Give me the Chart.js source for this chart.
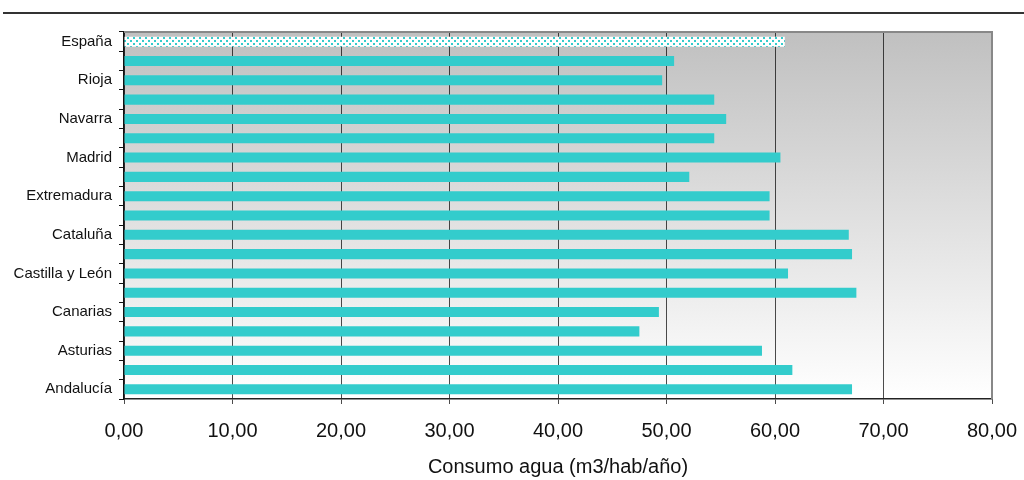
<!DOCTYPE html>
<html>
<head>
<meta charset="utf-8">
<script src="https://cdn.jsdelivr.net/npm/chart.js@4/dist/chart.umd.min.js"></script>
<style>
  html, body { margin: 0; padding: 0; background: #fff; }
  #wrap { width: 1024px; height: 480px; }
</style>
</head>
<body>
<div id="wrap"><canvas id="chart" width="1024" height="480"></canvas></div>
<script>
// regions, top to bottom (only every other one is labelled on the axis)
const regions = [
  'España', 'Ceuta y Melilla', 'Rioja', 'País Vasco', 'Navarra', 'Murcia',
  'Madrid', 'Galicia', 'Extremadura', 'C. Valenciana', 'Cataluña',
  'Castilla-La Mancha', 'Castilla y León', 'Cantabria', 'Canarias',
  'Baleares', 'Asturias', 'Aragón', 'Andalucía',
];
// consumo agua m3/hab/año
const consumo = [
  60.9, 50.7, 49.6, 54.4, 55.5, 54.4,
  60.5, 52.1, 59.5, 59.5, 66.8,
  67.1, 61.2, 67.5, 49.3,
  47.5, 58.8, 61.6, 67.1,
];
const xTicks = [0, 10, 20, 30, 40, 50, 60, 70, 80];

const turquoise = 'rgb(51, 204, 204)';

// dotted pattern for the España bar
const pat = document.createElement('canvas');
pat.width = 6;
pat.height = 6;
const pctx = pat.getContext('2d');
pctx.fillStyle = '#fff';
pctx.fillRect(0, 0, 6, 6);
pctx.fillStyle = turquoise;
pctx.fillRect(1, 1, 2, 2);
pctx.fillRect(4, 4, 2, 2);

const ctx = document.getElementById('chart').getContext('2d');
const espanaPattern = ctx.createPattern(pat, 'repeat');

const barColors = regions.map((r) => (r === 'España' ? espanaPattern : turquoise));

const plotDecor = {
  id: 'plotDecor',
  beforeDraw(chart) {
    const { ctx, chartArea: a } = chart;
    ctx.save();
    // top rule across the page
    ctx.strokeStyle = '#333';
    ctx.lineWidth = 2;
    ctx.beginPath();
    ctx.moveTo(3, 13);
    ctx.lineTo(1024, 13);
    ctx.stroke();
    // plot background gradient
    const g = ctx.createLinearGradient(0, a.top, 0, a.bottom);
    g.addColorStop(0, '#c0c0c0');
    g.addColorStop(1, '#ffffff');
    ctx.fillStyle = g;
    ctx.fillRect(a.left, a.top, a.right - a.left, a.bottom - a.top);
    ctx.restore();
  },
  afterDraw(chart) {
    const { ctx, chartArea: a } = chart;
    ctx.save();
    ctx.strokeStyle = '#888';
    ctx.lineWidth = 2;
    ctx.beginPath();
    ctx.moveTo(a.left, a.top);
    ctx.lineTo(a.right, a.top);
    ctx.lineTo(a.right, a.bottom);
    ctx.stroke();
    ctx.restore();
  },
};

new Chart(ctx, {
  type: 'bar',
  data: {
    labels: regions,
    datasets: [{
      label: 'Consumo agua',
      data: consumo,
      backgroundColor: barColors,
      barPercentage: 0.52,
      categoryPercentage: 1,
    }],
  },
  plugins: [plotDecor],
  options: {
    indexAxis: 'y',
    responsive: false,
    animation: false,
    layout: { padding: { top: 32, right: 32, left: 0, bottom: 0 } },
    plugins: {
      legend: { display: false },
      tooltip: { enabled: false },
    },
    scales: {
      x: {
        min: 0,
        max: 80,
        afterBuildTicks(scale) {
          scale.ticks = xTicks.map((v) => ({ value: v }));
        },
        afterFit(scale) {
          scale.height = 81;
          scale.paddingLeft = 0;
          scale.paddingRight = 0;
        },
        grid: {
          color: 'rgba(0,0,0,0.7)',
          lineWidth: 1,
          drawTicks: true,
          tickLength: 5,
        },
        border: { display: true, color: '#222', width: 1.5 },
        ticks: {
          color: '#111',
          padding: 15,
          maxRotation: 0,
          font: { family: 'Liberation Sans, Arial', size: 20 },
          callback: (v) => v.toFixed(2).replace('.', ','),
        },
        title: {
          display: true,
          text: 'Consumo agua (m3/hab/año)',
          color: '#111',
          font: { family: 'Liberation Sans, Arial', size: 20 },
          padding: { top: 0, bottom: 1 },
        },
      },
      y: {
        afterFit(scale) {
          scale.width = 124;
        },
        grid: {
          offset: true,
          drawOnChartArea: false,
          drawTicks: true,
          tickLength: 5,
          color: '#111',
        },
        border: { display: true, color: '#111', width: 1.5 },
        ticks: {
          autoSkip: false,
          padding: 7,
          color: '#111',
          font: { family: 'Liberation Sans, Arial', size: 15 },
          callback: (v, i) => (i % 2 === 0 ? regions[i] : ''),
        },
      },
    },
  },
});
</script>
</body>
</html>
